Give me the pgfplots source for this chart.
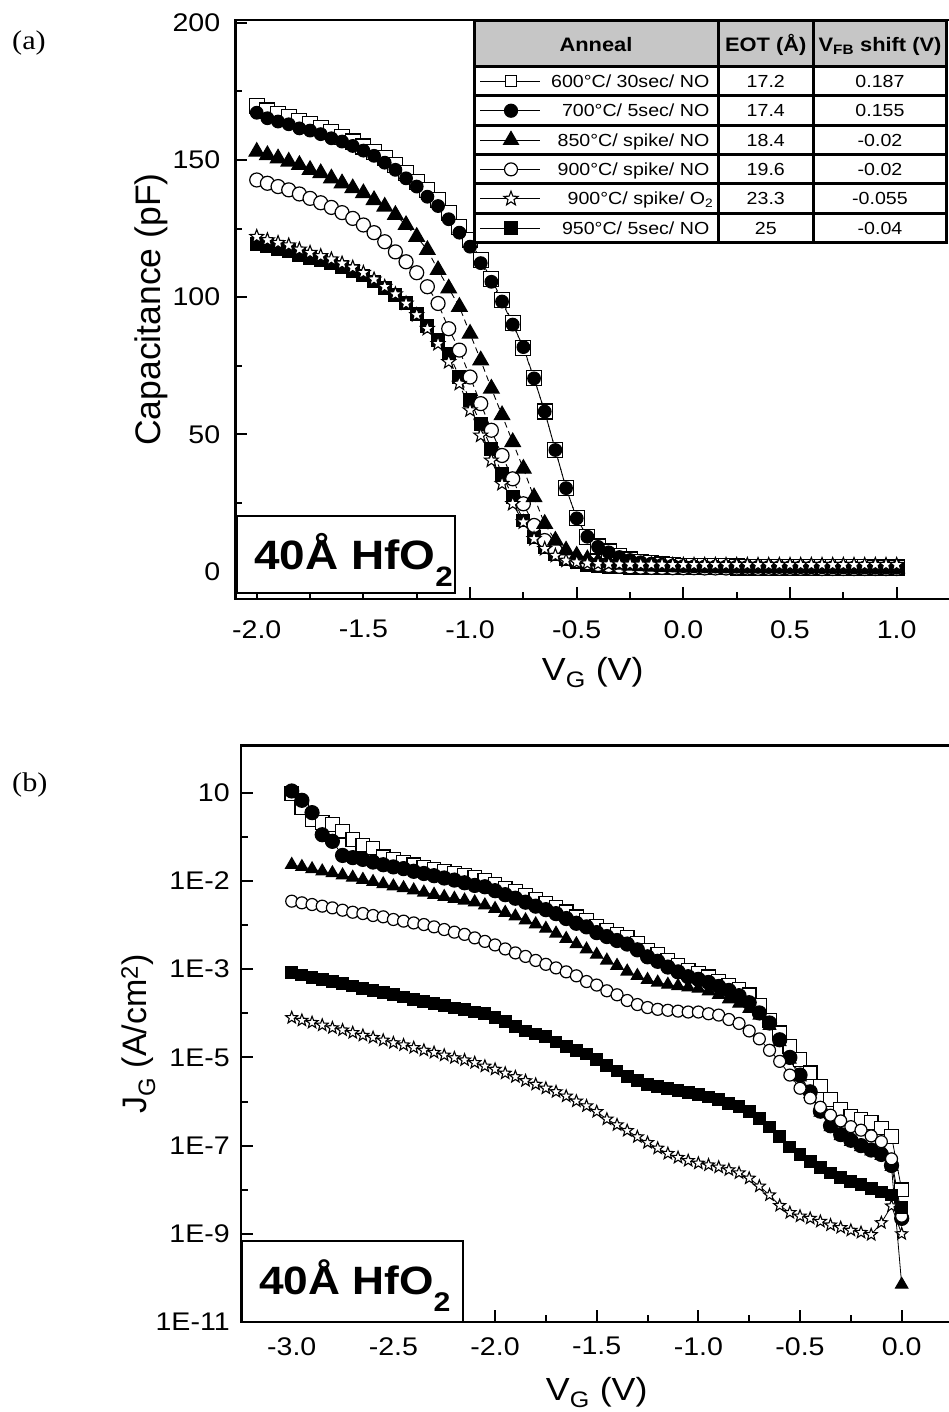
\documentclass[border=0pt]{standalone}
\usepackage{pgfplots}
\pgfplotsset{compat=1.18}
\usepackage{pgfplotstable}
\usepackage{fontspec}
\setmainfont{Liberation Sans}[FakeStretch=1.12]
\newfontfamily\plainsans{Liberation Sans}
\newfontfamily\serifw{Liberation Serif}[FakeStretch=1.12]
\definecolor{hdr}{RGB}{198,198,198}

\pgfdeclareplotmark{ostar}{%
  \pgfpathmoveto{\pgfpointpolar{90}{\pgfplotmarksize}}%
  \pgfpathlineto{\pgfpointpolar{126}{0.42\pgfplotmarksize}}%
  \pgfpathlineto{\pgfpointpolar{162}{\pgfplotmarksize}}%
  \pgfpathlineto{\pgfpointpolar{198}{0.42\pgfplotmarksize}}%
  \pgfpathlineto{\pgfpointpolar{234}{\pgfplotmarksize}}%
  \pgfpathlineto{\pgfpointpolar{270}{0.42\pgfplotmarksize}}%
  \pgfpathlineto{\pgfpointpolar{306}{\pgfplotmarksize}}%
  \pgfpathlineto{\pgfpointpolar{342}{0.42\pgfplotmarksize}}%
  \pgfpathlineto{\pgfpointpolar{18}{\pgfplotmarksize}}%
  \pgfpathlineto{\pgfpointpolar{54}{0.42\pgfplotmarksize}}%
  \pgfpathclose
  \pgfusepathqfillstroke
}

\pgfplotstableread{
x S C T O R F
-2.00 169.7 167.2 153.0 142.7 122.0 119.5
-1.95 168.0 165.2 151.8 141.5 120.8 118.5
-1.90 166.8 164.0 150.6 140.3 119.8 117.6
-1.85 165.6 163.0 149.4 139.1 118.9 116.8
-1.80 164.3 161.5 148.2 137.6 117.4 115.5
-1.75 163.0 160.7 146.4 136.0 116.2 114.4
-1.70 161.5 159.4 145.2 134.4 115.0 113.4
-1.65 160.1 157.9 143.3 132.7 113.8 112.3
-1.60 158.5 156.7 141.5 130.8 112.3 111.0
-1.55 156.7 155.1 139.7 128.7 110.8 109.6
-1.50 154.9 153.4 137.9 126.3 108.9 107.9
-1.45 153.0 151.5 135.4 123.5 106.5 105.7
-1.40 150.6 149.0 133.0 120.2 103.8 103.2
-1.35 148.2 146.4 130.0 116.5 101.1 100.8
-1.30 145.2 143.3 126.3 112.9 97.7 97.8
-1.25 142.1 140.3 122.0 108.9 93.5 94.0
-1.20 139.1 136.6 117.2 103.8 88.5 89.5
-1.15 135.4 133.2 109.9 97.7 83.0 84.5
-1.10 130.6 128.4 103.2 88.5 76.4 79.5
-1.05 125.7 123.5 96.5 80.7 68.5 71.0
-1.00 120.8 118.4 86.7 70.9 58.8 62.4
-0.95 113.5 112.4 77.0 61.2 49.6 53.9
-0.90 106.5 105.6 66.7 51.5 40.5 44.8
-0.85 99.0 98.4 57.0 42.3 32.0 35.6
-0.80 90.5 90.0 47.2 33.8 24.7 27.1
-0.75 81.4 81.8 37.5 24.7 18.0 18.6
-0.70 70.4 70.4 27.1 16.8 11.9 12.5
-0.65 58.3 58.3 17.4 11.3 8.3 8.9
-0.60 44.3 44.3 11.3 7.7 5.8 6.2
-0.55 30.4 30.4 7.7 5.2 4.0 4.5
-0.50 19.4 19.4 5.8 4.0 3.4 3.3
-0.45 12.7 12.7 4.5 3.2 3.0 2.5
-0.40 9.1 9.0 3.6 2.6 2.8 2.0
-0.35 7.3 7.0 3.0 2.2 2.7 1.7
-0.30 5.6 5.3 2.5 1.9 2.7 1.5
-0.25 4.4 4.2 2.2 1.7 2.6 1.4
-0.20 3.6 3.4 2.0 1.6 2.6 1.3
-0.15 3.0 2.9 1.8 1.5 2.6 1.3
-0.10 2.6 2.5 1.7 1.5 2.6 1.2
-0.05 2.3 2.2 1.6 1.4 2.5 1.2
0.00 2.1 2.0 1.5 1.4 2.5 1.2
0.05 2.0 1.9 1.5 1.4 2.5 1.1
0.10 1.95 1.85 1.5 1.3 2.5 1.1
0.15 1.9 1.8 1.4 1.3 2.5 1.1
0.20 1.9 1.8 1.4 1.3 2.5 1.1
0.25 1.85 1.75 1.4 1.3 2.5 1.0
0.30 1.8 1.7 1.4 1.3 2.5 1.0
0.35 1.8 1.7 1.4 1.2 2.5 1.0
0.40 1.75 1.65 1.3 1.2 2.5 1.0
0.45 1.75 1.65 1.3 1.2 2.5 1.0
0.50 1.7 1.6 1.3 1.2 2.5 1.0
0.55 1.7 1.6 1.3 1.2 2.5 1.0
0.60 1.65 1.55 1.3 1.2 2.5 0.9
0.65 1.65 1.55 1.3 1.1 2.5 0.9
0.70 1.6 1.5 1.2 1.1 2.5 0.9
0.75 1.6 1.5 1.2 1.1 2.5 0.9
0.80 1.55 1.45 1.2 1.1 2.5 0.9
0.85 1.55 1.45 1.2 1.1 2.5 0.9
0.90 1.5 1.4 1.2 1.1 2.5 0.9
0.95 1.5 1.4 1.2 1.1 2.5 0.9
1.00 1.5 1.4 1.2 1.1 2.5 0.9
}\topdata

\pgfplotstableread{
x S C T O F R
-3.00 9.55e0 1.10e1 2.34e-1 3.49e-2 8.32e-4 7.94e-5
-2.95 4.57e0 6.76e0 2.09e-1 3.20e-2 7.41e-4 6.92e-5
-2.90 2.45e0 3.55e0 1.86e-1 2.93e-2 6.61e-4 6.17e-5
-2.85 2.14e0 1.12e0 1.66e-1 2.69e-2 5.89e-4 5.37e-5
-2.80 1.91e0 7.94e-1 1.51e-1 2.46e-2 5.25e-4 4.68e-5
-2.75 1.35e0 3.80e-1 1.35e-1 2.18e-2 4.68e-4 4.17e-5
-2.70 8.71e-1 3.39e-1 1.20e-1 1.96e-2 4.17e-4 3.63e-5
-2.65 6.46e-1 3.09e-1 1.07e-1 1.83e-2 3.72e-4 3.16e-5
-2.60 5.62e-1 2.69e-1 9.55e-2 1.65e-2 3.31e-4 2.82e-5
-2.55 3.55e-1 2.34e-1 8.51e-2 1.54e-2 2.95e-4 2.45e-5
-2.50 3.16e-1 2.09e-1 7.59e-2 1.34e-2 2.63e-4 2.14e-5
-2.45 2.69e-1 1.91e-1 6.92e-2 1.23e-2 2.34e-4 1.91e-5
-2.40 2.34e-1 1.66e-1 6.17e-2 1.12e-2 2.09e-4 1.66e-5
-2.35 2.04e-1 1.48e-1 5.50e-2 1.03e-2 1.86e-4 1.45e-5
-2.30 1.82e-1 1.32e-1 4.90e-2 9.12e-3 1.66e-4 1.29e-5
-2.25 1.66e-1 1.17e-1 4.37e-2 7.94e-3 1.48e-4 1.12e-5
-2.20 1.48e-1 1.05e-1 3.98e-2 6.92e-3 1.32e-4 9.77e-6
-2.15 1.35e-1 9.12e-2 3.63e-2 6.17e-3 1.20e-4 8.71e-6
-2.10 1.20e-1 7.94e-2 3.31e-2 5.13e-3 1.07e-4 7.59e-6
-2.05 1.05e-1 7.41e-2 2.82e-2 4.27e-3 9.77e-5 6.31e-6
-2.00 8.51e-2 6.03e-2 2.34e-2 3.55e-3 7.94e-5 5.37e-6
-1.95 6.92e-2 4.90e-2 1.91e-2 2.88e-3 6.46e-5 4.37e-6
-1.90 5.75e-2 4.07e-2 1.58e-2 2.34e-3 5.01e-5 3.63e-6
-1.85 4.68e-2 3.31e-2 1.29e-2 1.95e-3 3.98e-5 2.95e-6
-1.80 3.80e-2 2.69e-2 1.05e-2 1.58e-3 3.39e-5 2.45e-6
-1.75 3.16e-2 2.24e-2 8.32e-3 1.29e-3 2.95e-5 2.00e-6
-1.70 2.57e-2 1.82e-2 6.46e-3 1.07e-3 2.24e-5 1.66e-6
-1.65 2.00e-2 1.41e-2 4.90e-3 8.71e-4 1.78e-5 1.32e-6
-1.60 1.55e-2 1.10e-2 3.72e-3 7.08e-4 1.45e-5 1.02e-6
-1.55 1.29e-2 9.12e-3 2.82e-3 5.25e-4 1.20e-5 7.94e-7
-1.50 9.55e-3 6.76e-3 2.14e-3 4.37e-4 8.91e-6 5.89e-7
-1.45 7.76e-3 5.50e-3 1.58e-3 3.24e-4 6.61e-6 3.98e-7
-1.40 6.31e-3 4.47e-3 1.20e-3 2.63e-4 4.90e-6 2.95e-7
-1.35 5.25e-3 3.72e-3 8.91e-4 1.95e-4 3.63e-6 2.19e-7
-1.30 3.89e-3 2.75e-3 7.08e-4 1.58e-4 2.95e-6 1.58e-7
-1.25 2.69e-3 1.91e-3 5.75e-4 1.35e-4 2.45e-6 1.17e-7
-1.20 2.14e-3 1.51e-3 5.01e-4 1.23e-4 2.19e-6 8.71e-8
-1.15 1.58e-3 1.12e-3 4.47e-4 1.17e-4 2.00e-6 6.61e-8
-1.10 1.23e-3 8.71e-4 4.17e-4 1.12e-4 1.78e-6 5.37e-8
-1.05 9.55e-4 6.76e-4 3.89e-4 1.07e-4 1.62e-6 4.57e-8
-1.00 8.13e-4 5.89e-4 3.63e-4 1.07e-4 1.45e-6 3.98e-8
-0.95 6.76e-4 5.01e-4 3.16e-4 9.77e-5 1.26e-6 3.63e-8
-0.90 5.25e-4 4.07e-4 2.63e-4 9.12e-5 1.10e-6 3.24e-8
-0.85 4.37e-4 3.31e-4 2.09e-4 7.24e-5 9.12e-7 2.82e-8
-0.80 3.55e-4 2.51e-4 1.66e-4 5.89e-5 7.59e-7 2.40e-8
-0.75 2.63e-4 1.74e-4 1.26e-4 3.98e-5 6.03e-7 1.82e-8
-0.70 1.55e-4 1.02e-4 8.91e-5 2.63e-5 4.17e-7 1.20e-8
-0.65 6.92e-5 6.03e-5 5.25e-5 1.45e-5 2.63e-7 7.59e-9
-0.60 3.63e-5 2.51e-5 2.24e-5 8.13e-6 1.58e-7 4.37e-9
-0.55 1.78e-5 1.00e-5 8.91e-6 3.98e-6 9.33e-8 3.02e-9
-0.50 8.91e-6 3.98e-6 3.55e-6 2.00e-6 6.31e-8 2.51e-9
-0.45 4.47e-6 1.66e-6 1.48e-6 1.20e-6 4.37e-8 2.24e-9
-0.40 2.24e-6 6.03e-7 5.62e-7 7.41e-7 3.16e-8 1.91e-9
-0.35 1.12e-6 2.82e-7 2.63e-7 4.90e-7 2.40e-8 1.58e-9
-0.30 6.61e-7 1.78e-7 1.66e-7 3.63e-7 1.91e-8 1.38e-9
-0.25 4.68e-7 1.32e-7 1.23e-7 2.69e-7 1.55e-8 1.20e-9
-0.20 3.89e-7 1.00e-7 9.33e-8 2.24e-7 1.29e-8 1.07e-9
-0.15 3.31e-7 7.94e-8 7.41e-8 1.66e-7 1.07e-8 9.55e-10
-0.10 2.51e-7 6.31e-8 5.89e-8 1.23e-7 8.91e-9 1.78e-9
-0.05 1.62e-7 3.55e-8 3.31e-8 5.01e-8 7.59e-9 4.27e-9
0.00 1.00e-8 2.24e-9 7.08e-11 2.51e-9 3.98e-9 1.00e-9
}\botdata

\pgfplotsset{
  myaxis/.style={
    scale only axis,
    axis line style={line width=2.5pt},
    tick align=inside,
    xtick pos=left, ytick pos=left,
    major tick length=12pt, minor tick length=7pt,
    every tick/.append style={black, line width=2pt},
    tick label style={font=\fontsize{25.5}{25.5}\selectfont},
    xticklabel style={anchor=north, inner sep=0pt},
    yticklabel style={anchor=east, inner sep=0pt},
  },
  sS/.style={black, mark=square*, mark options={fill=white, solid, line width=1.2pt}},
  sC/.style={black, mark=*, mark options={fill=black, solid, line width=1.2pt}},
  sT/.style={black, mark=triangle*, mark options={fill=black, solid, line width=1.2pt}},
  sO/.style={black, mark=*, mark options={fill=white, solid, line width=1.2pt}},
  sR/.style={black, mark=ostar, mark options={fill=white, solid, line width=1.1pt}},
  sF/.style={black, mark=square*, mark options={fill=black, solid, line width=1.2pt}},
}

\begin{document}
\begin{tikzpicture}
\useasboundingbox (0pt,0pt) rectangle (948pt,-1412pt);

% ---------------- (a) C-V ----------------
\begin{axis}[myaxis,
  at={(235.4pt,-599pt)}, anchor=south west,
  width=714.6pt, height=579pt,
  xmin=-2.1, xmax=1.25, ymin=-10, ymax=201,
  xtick={-2,-1.5,-1,-0.5,0,0.5,1},
  xticklabels={-2.0,-1.5,-1.0,-0.5,0.0,0.5,1.0},
  minor xtick={-1.75,-1.25,-0.75,-0.25,0.25,0.75},
  ytick={0,50,100,150,200}, yticklabels={0,50,100,150,200},
  minor ytick={25,75,125,175},
  xticklabel style={yshift=-21pt},
  yticklabel style={xshift=-15pt},
  xlabel={V\textsubscript{G} (V)},
  xlabel style={at={(axis description cs:0.5,-0.1399)}, anchor=base, font=\fontsize{32}{32}\selectfont},
  ylabel={Capacitance (pF)},
  ylabel style={at={(axis description cs:-0.1055,0.5)}, anchor=base, rotate=0, font=\plainsans\fontsize{35.5}{35.5}\selectfont},
  legend image code/.code={
    \path[draw=none,fill=none] (0pt,-7pt) rectangle (71pt,7pt);
    \draw[mark repeat=2,mark phase=2,#1] plot coordinates {(6pt,0pt) (37pt,0pt) (66pt,0pt)};
  },
  legend cell align=left,
  legend style={at={(axis description cs:0.3339,0.9193)}, anchor=north west,
    draw=none, fill=white, inner sep=0pt, inner xsep=0pt, inner ysep=0pt, outer sep=0pt,
    row sep=0pt, column sep=0pt, font=\fontsize{17.5}{17.5}\selectfont,
    nodes={inner sep=0pt, minimum height=29.33pt, text height=12.5pt, text depth=0pt},
    cells={anchor=west}},
]
\addplot[forget plot, sS, line width=0.9pt, dash pattern=on 6pt off 4pt, mark size=7.5pt] table[x=x,y=S]{\topdata};
\addplot[forget plot, sF, line width=0.9pt, dash pattern=on 6pt off 4pt, mark size=6.3pt] table[x=x,y=F]{\topdata};
\addplot[forget plot, sO, line width=0.9pt, dash pattern=on 6pt off 4pt, mark size=7pt] table[x=x,y=O]{\topdata};
\addplot[forget plot, sT, line width=0.9pt, dash pattern=on 6pt off 4pt, mark size=8.8pt] table[x=x,y=T]{\topdata};
\addplot[forget plot, sC, line width=0.9pt, dash pattern=on 6pt off 4pt, mark size=6.3pt] table[x=x,y=C]{\topdata};
\addplot[forget plot, sR, line width=0.9pt, dash pattern=on 6pt off 4pt, mark size=7.2pt] table[x=x,y=R]{\topdata};

\addlegendimage{sS, line width=1pt, solid, mark size=5.5pt}
\addlegendentry{\makebox[173.3pt][r]{600°C/ 30sec/ NO\hspace{9pt}}\makebox[95pt]{17.2}\makebox[133.4pt]{0.187}}
\addlegendimage{sC, line width=1pt, solid, mark size=6.5pt}
\addlegendentry{\makebox[173.3pt][r]{700°C/ 5sec/ NO\hspace{9pt}}\makebox[95pt]{17.4}\makebox[133.4pt]{0.155}}
\addlegendimage{sT, line width=1pt, solid, mark size=8.5pt}
\addlegendentry{\makebox[173.3pt][r]{850°C/ spike/ NO\hspace{9pt}}\makebox[95pt]{18.4}\makebox[133.4pt]{-0.02}}
\addlegendimage{sO, line width=1pt, solid, mark size=6.5pt}
\addlegendentry{\makebox[173.3pt][r]{900°C/ spike/ NO\hspace{9pt}}\makebox[95pt]{19.6}\makebox[133.4pt]{-0.02}}
\addlegendimage{sR, line width=1pt, solid, mark size=7.5pt}
\addlegendentry{\makebox[173.3pt][r]{900°C/ spike/ O\textsubscript{2}\hspace{5pt}}\makebox[95pt]{23.3}\makebox[133.4pt]{-0.055}}
\addlegendimage{sF, line width=1pt, solid, mark size=6pt}
\addlegendentry{\makebox[173.3pt][r]{950°C/ 5sec/ NO\hspace{9pt}}\makebox[95pt]{25}\makebox[133.4pt]{-0.04}}
\end{axis}

% table header and grid
\fill[hdr] (474pt,-21pt) rectangle (946.7pt,-66.7pt);
\draw[line width=3pt] (474pt,-21pt) rectangle (946.7pt,-242.7pt);
\foreach \yy in {66.7,96,125.3,154.7,184,213.3} {
  \draw[line width=3pt] (474pt,-\yy pt) -- (946.7pt,-\yy pt);
}
\draw[line width=3pt] (718.3pt,-21pt) -- (718.3pt,-242.7pt);
\draw[line width=3pt] (813.3pt,-21pt) -- (813.3pt,-242.7pt);
\node[anchor=base, inner sep=0pt, font=\bfseries\fontsize{19.5}{19.5}\selectfont] at (596pt,-51.7pt) {Anneal};
\node[anchor=base, inner sep=0pt, font=\bfseries\fontsize{19.5}{19.5}\selectfont] at (765.8pt,-51.7pt) {EOT (Å)};
\node[anchor=base, inner sep=0pt, font=\bfseries\fontsize{19.5}{19.5}\selectfont] at (880pt,-51.7pt) {V\textsubscript{FB} shift (V)};

% sample label box (a)
\draw[line width=2pt, fill=white] (237.3pt,-516.4pt) rectangle (455pt,-593.3pt);
\node[anchor=base west, inner sep=0pt, font=\bfseries\fontsize{41}{41}\selectfont] at (254pt,-569pt) {40Å HfO\raisebox{-17pt}{\fontsize{28}{28}\selectfont 2}};

% ---------------- (b) J-V ----------------
\begin{axis}[myaxis,
  at={(240.9pt,-1322pt)}, anchor=south west,
  width=711.6pt, height=576.4pt,
  ymode=log,
  xmin=-3.25, xmax=0.25, ymin=1e-11, ymax=117.5,
  xtick={-3,-2.5,-2,-1.5,-1,-0.5,0},
  xticklabels={-3.0,-2.5,-2.0,-1.5,-1.0,-0.5,0.0},
  minor xtick={-2.75,-2.25,-1.75,-1.25,-0.75,-0.25},
  ytick={1e1,1e-1,1e-3,1e-5,1e-7,1e-9,1e-11},
  yticklabels={10,1E-2,1E-3,1E-5,1E-7,1E-9,1E-11},
  minor ytick={1,1e-2,1e-4,1e-6,1e-8,1e-10},
  xticklabel style={yshift=-15pt},
  yticklabel style={xshift=-11pt},
  xlabel={V\textsubscript{G} (V)},
  xlabel style={at={(axis description cs:0.5,-0.1353)}, anchor=base, font=\fontsize{32}{32}\selectfont},
  ylabel={J\textsubscript{G} (A/cm\textsuperscript{2})},
  ylabel style={at={(axis description cs:-0.132,0.5)}, anchor=base, rotate=0, font=\plainsans\fontsize{34}{34}\selectfont},
]
\addplot[forget plot, sS, line width=0.8pt, mark size=6.8pt] table[x=x,y=S]{\botdata};
\addplot[forget plot, sT, line width=0.8pt, mark size=7pt] table[x=x,y=T]{\botdata};
\addplot[forget plot, sC, line width=0.8pt, mark size=7pt] table[x=x,y=C]{\botdata};
\addplot[forget plot, sO, line width=0.8pt, mark size=6pt] table[x=x,y=O]{\botdata};
\addplot[forget plot, sF, line width=0.8pt, mark size=5.8pt] table[x=x,y=F]{\botdata};
\addplot[forget plot, sR, line width=0.8pt, mark size=6.3pt] table[x=x,y=R]{\botdata};
\end{axis}

\draw[line width=2pt, fill=white] (242pt,-1241pt) rectangle (462.7pt,-1322pt);
\node[anchor=base west, inner sep=0pt, font=\bfseries\fontsize{39.5}{39.5}\selectfont] at (259pt,-1294pt) {40Å HfO\raisebox{-17pt}{\fontsize{27}{27}\selectfont 2}};

% panel labels
\node[anchor=west, inner sep=0pt, font=\serifw\fontsize{27}{27}\selectfont] at (12pt,-43.5pt) {(a)};
\node[anchor=west, inner sep=0pt, font=\serifw\fontsize{27}{27}\selectfont] at (12pt,-785pt) {(b)};
\end{tikzpicture}
\end{document}
